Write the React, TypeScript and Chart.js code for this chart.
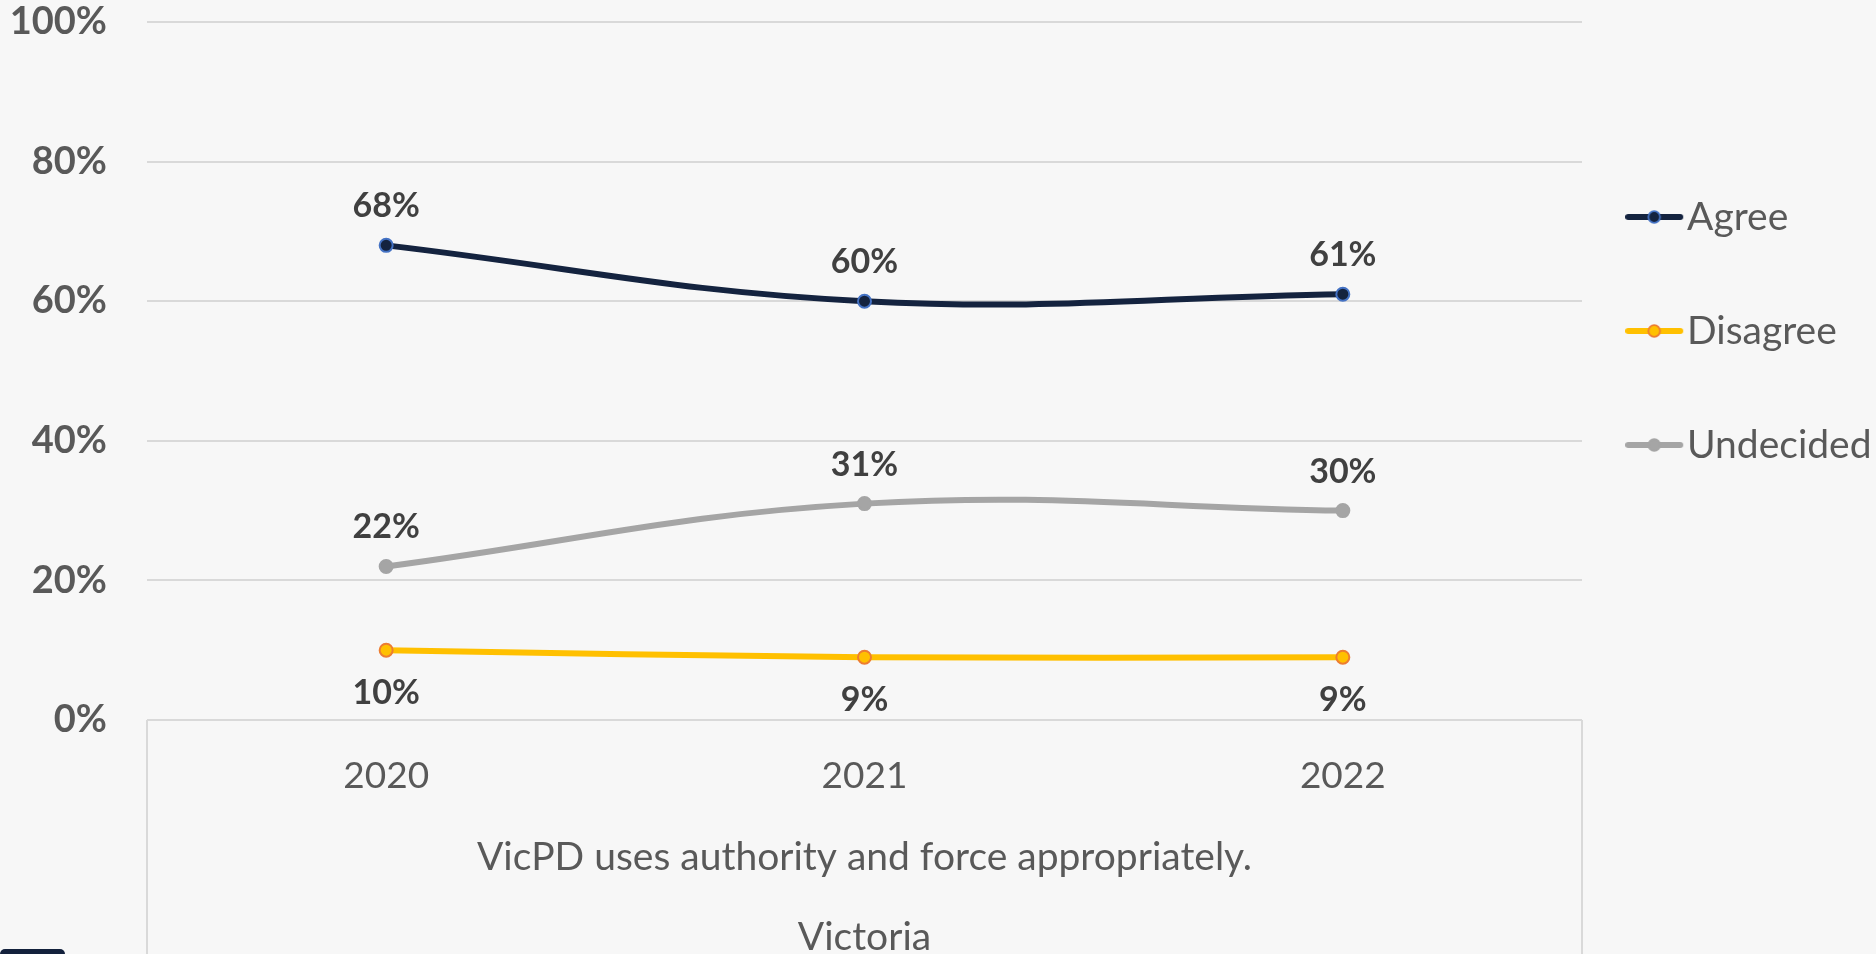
import React, { useEffect, useRef } from "react";
import { Chart, registerables } from "chart.js";

Chart.register(...registerables);

// ---- data ----
const categories = ["2020", "2021", "2022"];
const seriesNames = ["Agree", "Disagree", "Undecided"];
const agreeValues = [68, 60, 61];
const disagreeValues = [10, 9, 9];
const undecidedValues = [22, 31, 30];
const yTickValues = [0, 20, 40, 60, 80, 100];
const axisTitleLines = ["VicPD uses authority and force appropriately.", "Victoria"];

// ---- styling ----
const W = 1876;
const H = 954;
const FONT = "Lato, 'Open Sans', sans-serif";
const GRID = "#d9d9d9";
const TEXT = "#595959";
const LABEL = "#404040";

const seriesStyle = [
  { line: "#14233f", fill: "#14233f", border: "#4472c4", labelPos: "above" },
  { line: "#ffc000", fill: "#ffc000", border: "#ed7d31", labelPos: "below" },
  { line: "#a5a5a5", fill: "#a5a5a5", border: "#a5a5a5", labelPos: "above" },
];

function legendSwatch(line: string, fill: string, border: string) {
  const c = document.createElement("canvas");
  c.width = 74;
  c.height = 20;
  const ctx = c.getContext("2d")!;
  ctx.strokeStyle = line;
  ctx.lineWidth = 6;
  ctx.lineCap = "round";
  ctx.beginPath();
  ctx.moveTo(3, 10);
  ctx.lineTo(55, 10);
  ctx.stroke();
  ctx.beginPath();
  ctx.arc(29, 10, 5.8, 0, Math.PI * 2);
  ctx.fillStyle = fill;
  ctx.fill();
  ctx.lineWidth = 1.8;
  ctx.strokeStyle = border;
  ctx.stroke();
  return c;
}

const dataLabelPlugin = {
  id: "dataLabels",
  afterDatasetsDraw(chart: any) {
    const ctx = chart.ctx;
    ctx.save();
    ctx.font = `bold 34px ${FONT}`;
    ctx.fillStyle = LABEL;
    ctx.textAlign = "center";
    ctx.textBaseline = "middle";
    chart.data.datasets.forEach((ds: any, i: number) => {
      const meta = chart.getDatasetMeta(i);
      const below = ds.labelPos === "below";
      meta.data.forEach((pt: any, j: number) => {
        ctx.fillText(ds.data[j] + "%", pt.x, pt.y + (below ? 43 : -39));
      });
    });
    ctx.restore();
  },
};

const axisBoxPlugin = {
  id: "axisBox",
  afterDraw(chart: any) {
    const { ctx, chartArea: a } = chart;
    ctx.save();
    ctx.strokeStyle = GRID;
    ctx.lineWidth = 2;
    ctx.beginPath();
    ctx.moveTo(a.left, a.bottom);
    ctx.lineTo(a.left, chart.height);
    ctx.moveTo(a.right, a.bottom);
    ctx.lineTo(a.right, chart.height);
    ctx.stroke();
    ctx.restore();
  },
};

export default function App() {
  const ref = useRef<HTMLCanvasElement | null>(null);

  useEffect(() => {
    let chart: Chart | null = null;
    let cancelled = false;
    const build = () => {
      if (cancelled || !ref.current) return;
      const values = [agreeValues, disagreeValues, undecidedValues];
      const swatches = seriesStyle.map((s) => legendSwatch(s.line, s.fill, s.border));
      chart = new Chart(ref.current, {
        type: "line",
        data: {
          labels: categories,
          datasets: seriesNames.map((name, i) => ({
            label: name,
            data: values[i],
            borderColor: seriesStyle[i].line,
            backgroundColor: seriesStyle[i].fill,
            borderWidth: 6,
            borderCapStyle: "round",
            tension: 0.4,
            pointStyle: "circle",
            pointRadius: 6.5,
            pointBackgroundColor: seriesStyle[i].fill,
            pointBorderColor: seriesStyle[i].border,
            pointBorderWidth: 2,
            labelPos: seriesStyle[i].labelPos,
          })) as any,
        },
        options: {
          responsive: false,
          animation: false,
          devicePixelRatio: 1,
          layout: { padding: { top: 22, right: 6, bottom: 0, left: 0 } },
          scales: {
            x: {
              type: "category",
              offset: true,
              grid: { display: false },
              border: { display: false },
              ticks: { padding: 26, color: TEXT, font: { family: FONT, size: 37 } },
              title: {
                display: true,
                text: axisTitleLines,
                color: TEXT,
                font: { family: FONT, size: 39, lineHeight: 80 / 39 },
                padding: { top: 0, bottom: -23 },
              },
              afterFit(s: any) {
                s.height = 234;
              },
            },
            y: {
              min: 0,
              max: 100,
              afterBuildTicks(s: any) {
                s.ticks = yTickValues.map((v) => ({ value: v }));
              },
              grid: { color: GRID, lineWidth: 2, drawTicks: false },
              border: { display: false },
              ticks: {
                padding: 40,
                color: TEXT,
                font: { family: FONT, size: 38, weight: "bold" },
                callback: (v: any) => v + "%",
              },
              afterFit(s: any) {
                s.width = 147;
                s.paddingTop = 22;
                s.paddingBottom = 22;
              },
            },
          },
          plugins: {
            tooltip: { enabled: false },
            legend: {
              position: "right",
              align: "start",
              maxWidth: 288,
              title: {
                display: true,
                text: " ",
                font: { size: 10, lineHeight: 1.2 },
                padding: { top: 0, bottom: 88.5 },
              },
              labels: {
                usePointStyle: true,
                pointStyleWidth: 10.5,
                padding: 75,
                color: TEXT,
                font: { family: FONT, size: 39 },
                generateLabels: (c: any) => {
                  const items = Chart.defaults.plugins.legend.labels.generateLabels(c);
                  return items.map((it: any, i: number) => ({
                    ...it,
                    pointStyle: swatches[i],
                    fontColor: TEXT,
                  }));
                },
              },
            },
          },
        } as any,
        plugins: [dataLabelPlugin, axisBoxPlugin],
      });
    };
    const fontsReady = (document as any).fonts
      ? Promise.all([
          (document as any).fonts.load(`36px Lato`),
          (document as any).fonts.load(`bold 36px Lato`),
        ]).catch(() => null)
      : Promise.resolve(null);
    fontsReady.then(build);
    return () => {
      cancelled = true;
      if (chart) chart.destroy();
    };
  }, []);

  return (
    <div
      style={{
        position: "fixed",
        left: 0,
        top: 0,
        width: W,
        height: H,
        background: "#f7f7f7",
        overflow: "hidden",
      }}
    >
      <canvas ref={ref} width={W} height={H} style={{ display: "block", width: W, height: H }} />
      <div
        style={{
          position: "absolute",
          left: 0,
          top: 949,
          width: 65,
          height: 12,
          background: "#13213c",
          borderRadius: 5,
        }}
      />
    </div>
  );
}
